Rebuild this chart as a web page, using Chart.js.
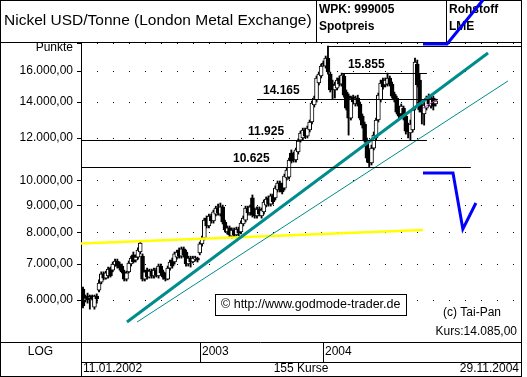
<!DOCTYPE html>
<html>
<head>
<meta charset="utf-8">
<script src="https://cdn.jsdelivr.net/npm/chart.js@4.4.0/dist/chart.umd.min.js"></script>
<style>
  html, body { margin: 0; padding: 0; background: #fff; }
  canvas { display: block; }
</style>
</head>
<body>
<canvas id="chart" width="527" height="377"></canvas>
<script>
// Nickel USD/Tonne, Wochenkerzen 11.01.2002 - 29.11.2004
const opens = [6290, 6000, 6100, 6050, 6100, 5820, 6100, 6260, 6480, 6710,
  6590, 6650, 6880, 6820, 6970, 7090, 7000, 6940, 6770, 6560,
  6770, 7000, 7280, 7120, 7210, 7370, 7240, 6560, 6820, 6620,
  6790, 6650, 6820, 6650, 6940, 6770, 6680, 6560, 6880, 7120,
  7060, 7210, 7430, 7240, 7470, 7370, 7000, 7180, 7060, 7150,
  7180, 7340, 7630, 7820, 8520, 8240, 8600, 8420, 8670, 8900,
  8670, 8940, 8380, 8030, 8170, 7890, 8100, 7930, 8130, 8030,
  8310, 8450, 8900, 8710, 9290, 8820, 8600, 8860, 8600, 8750,
  9010, 9290, 9050, 9370, 9290, 9610, 9900, 9820, 9690, 10120,
  10160, 11260, 11160, 10930, 11310, 11900, 12010, 12430, 12110, 12430,
  12860, 13830, 14130, 15200, 15660, 16560, 16340, 16910, 15790, 15130,
  14750, 14870, 15530, 15130, 15660, 14620, 14370, 13080, 14310, 13890,
  14250, 13890, 13190, 12750, 11900, 11160, 10790, 11500, 12010, 12970,
  14130, 15390, 15070, 15130, 15530, 15130, 14500, 14250, 13650, 13310,
  13650, 13190, 12640, 12270, 12430, 13650, 16480, 15390, 13770, 13310,
  13650, 14370, 13770, 14250, 13890]
const highs = [6340, 6130, 6180, 6130, 6130, 6130, 6160, 6540, 6770, 6770,
  6790, 6910, 6910, 7060, 7150, 7150, 7060, 7000, 6820, 6790,
  7090, 7240, 7370, 7280, 7500, 7730, 7310, 6820, 6880, 6850,
  6850, 6880, 6880, 7000, 7000, 6820, 6740, 6940, 7120, 7180,
  7370, 7430, 7500, 7530, 7530, 7430, 7240, 7240, 7240, 7240,
  7210, 7690, 7890, 8520, 8600, 8670, 8670, 8820, 8970, 9050,
  9090, 9010, 8450, 8240, 8240, 8170, 8170, 8200, 8200, 8420,
  8600, 8970, 8970, 9010, 9410, 8900, 8940, 8940, 8900, 9210,
  9330, 9370, 9450, 9450, 9780, 9990, 9990, 9900, 10290, 10560,
  11020, 11410, 11310, 11500, 11960, 12370, 12530, 12530, 12640, 12970,
  14070, 14370, 15660, 15930, 16480, 16700, 17060, 17800, 15930, 15390,
  15260, 15530, 15660, 15855, 15790, 14750, 14500, 14370, 14430, 14370,
  14430, 14010, 13310, 12860, 12010, 11410, 11650, 12320, 13080, 14560,
  15390, 15530, 15530, 15855, 15660, 15260, 14620, 14370, 13770, 13890,
  13770, 13310, 12800, 12970, 13650, 16910, 16770, 15790, 13890, 13950,
  14370, 14500, 14370, 14370, 14190]
const lows = [5800, 5950, 5920, 5770, 6000, 5770, 5920, 6210, 6430, 6540,
  6560, 6590, 6620, 6770, 6940, 6880, 6820, 6740, 6510, 6510,
  6740, 6940, 7030, 7060, 7150, 7310, 6510, 6510, 6560, 6590,
  6590, 6590, 6620, 6590, 6680, 6560, 6510, 6540, 6820, 6880,
  7000, 7150, 7180, 7180, 7210, 6940, 6940, 6910, 7030, 7090,
  7060, 7280, 7560, 7760, 8170, 8170, 8340, 8340, 8600, 8630,
  8600, 8310, 8030, 7960, 7860, 7820, 7860, 7860, 7890, 7960,
  8240, 8380, 8630, 8630, 8560, 8520, 8520, 8600, 8520, 8670,
  8940, 8970, 8970, 9050, 9210, 9530, 9530, 9450, 9610, 10030,
  10070, 10790, 10830, 10830, 11210, 11800, 11900, 12010, 12010, 12320,
  12750, 13710, 14010, 15070, 15530, 16340, 16200, 15790, 14620, 14165,
  14250, 14750, 15000, 15000, 14310, 13540, 12160, 12970, 13890, 13770,
  13770, 12970, 12530, 11800, 10830, 10625, 10700, 11410, 11900, 12860,
  14010, 14810, 14940, 15000, 15000, 14250, 14010, 13310, 13080, 13140,
  12970, 12210, 12010, 11900, 12320, 13540, 14940, 13420, 12750, 12690,
  13540, 13770, 13650, 13540, 13770]
const closes = [5850, 6050, 6000, 6080, 6030, 6100, 6030, 6450, 6710, 6590,
  6740, 6850, 6650, 7000, 7090, 6940, 6880, 6770, 6560, 6740,
  7030, 7180, 7060, 7210, 7430, 7660, 6560, 6770, 6620, 6790,
  6650, 6820, 6680, 6940, 6740, 6620, 6560, 6880, 7060, 6940,
  7310, 7370, 7240, 7470, 7280, 7000, 7180, 7060, 7180, 7180,
  7120, 7630, 7820, 8450, 8240, 8600, 8420, 8750, 8900, 8710,
  8940, 8380, 8100, 8170, 7930, 8100, 7930, 8130, 7990, 8340,
  8520, 8900, 8710, 8940, 8630, 8600, 8860, 8670, 8820, 9130,
  9250, 9050, 9370, 9130, 9690, 9900, 9610, 9530, 10200, 10470,
  10930, 10880, 10930, 11410, 11850, 12270, 12430, 12110, 12530, 12860,
  13950, 14250, 15530, 15790, 16340, 16480, 16910, 15930, 14750, 14870,
  15070, 15390, 15130, 15730, 14430, 13650, 13080, 14250, 14010, 14250,
  13890, 13080, 12690, 11900, 11020, 10790, 11500, 12160, 12970, 14430,
  15200, 14940, 15390, 15530, 15130, 14370, 14130, 13420, 13190, 13770,
  13080, 12370, 12320, 12750, 13540, 16630, 15070, 13540, 13420, 13830,
  14250, 13890, 14250, 13770, 14085]

const firstDate = '11.01.2002'
const lastDate = '29.11.2004'
const yearLabels = ['2003', '2004']
const yearStart = [51, 105]

const tickValues = [6000, 7000, 8000, 9000, 10000, 12000, 14000, 16000, 18000]
const tickLabels = ['6.000,00', '7.000,00', '8.000,00', '9.000,00', '10.000,00',
  '12.000,00', '14.000,00', '16.000,00', '']

// Marken (Hoch/Tief)
const levelValues = [17800, 15855, 14165, 11925, 10625]
const levelTexts = ['', '15.855', '14.165', '11.925', '10.625']
const levelFrom = [107, 112.8, 76, -0.87, -0.87]
const levelTo = [191.3, 150.2, 155, 150.2, 169.4]
const levelTextAt = [0, 115.7, 78.6, 72.1, 65.5]

// Trendlinien / Zeichnungen
const trendThick = [{x: 19.2, y: 5460}, {x: 176.9, y: 17280}]
const trendThin = [{x: 23.6, y: 5460}, {x: 185.6, y: 15330}]
const yellowLine = [{x: -0.87, y: 7640}, {x: 148.5, y: 8100}]
const blueUp = [{x: 148.5, y: 17960}, {x: 159, y: 17960}, {x: 174.7, y: 21690}]
const blueDown = [{x: 148.5, y: 10340}, {x: 161.6, y: 10340}, {x: 165.9, y: 8130}, {x: 171.6, y: 9090}]
const pinkLine = [{x: 148.5, y: 13650}, {x: 154.2, y: 14130}]

const FONT = '"Liberation Sans", Arial, sans-serif'
const f = (size, bold) => (bold ? 'bold ' : '') + size + 'px ' + FONT

function hline(ctx, x1, x2, y) {
  ctx.beginPath(); ctx.moveTo(x1, y + 0.5); ctx.lineTo(x2, y + 0.5); ctx.stroke()
}
function vline(ctx, x, y1, y2) {
  ctx.beginPath(); ctx.moveTo(x + 0.5, y1); ctx.lineTo(x + 0.5, y2); ctx.stroke()
}
function text(ctx, s, x, y, font, align) {
  ctx.font = font
  ctx.textAlign = align || 'left'
  ctx.textBaseline = 'middle'
  ctx.fillText(s, x, y)
}

const frame = {
  id: 'frame',
  beforeDraw(chart) {
    const ctx = chart.ctx
    const xs = chart.scales.x
    const a = chart.chartArea
    const R = Math.round(a.right)
    ctx.save()
    ctx.fillStyle = '#fff'
    ctx.fillRect(0, 0, chart.width, chart.height)
    ctx.strokeStyle = '#000'
    ctx.fillStyle = '#000'
    ctx.lineWidth = 1
    // Rahmen
    ctx.strokeRect(0.5, 0.5, R, 376)
    hline(ctx, 0, R, 42)
    vline(ctx, 316, 0, 42)
    vline(ctx, 446, 0, 42)
    hline(ctx, 0, R, 342)
    hline(ctx, 81, R, 362)
    vline(ctx, 81, 342, 377)
    // Kopf
    text(ctx, 'Nickel USD/Tonne (London Metal Exchange)', 4, 21, f(15.5))
    text(ctx, 'WPK: 999005', 319, 10, f(12, true))
    text(ctx, 'Spotpreis', 319, 27, f(12, true))
    text(ctx, 'Rohstoff', 449, 10, f(12, true))
    text(ctx, 'LME', 449, 27, f(12, true))
    text(ctx, 'Punkte', 73, 48, f(12), 'right')
    // Fuss
    text(ctx, 'LOG', 40.5, 352, f(12), 'center')
    yearStart.forEach((idx, k) => {
      const px = Math.round(xs.getPixelForValue(idx))
      vline(ctx, px, 342, 362)
      text(ctx, yearLabels[k], px + 2, 352, f(12))
    })
    text(ctx, firstDate, 83, 369, f(12))
    text(ctx, closes.length + ' Kurse', (81 + R) / 2, 369, f(12), 'center')
    text(ctx, lastDate, R - 2, 369, f(12), 'right')
    ctx.restore()
  },
  beforeDatasetsDraw(chart) {
    // gepunktetes Raster auf den Tick-Werten
    const ctx = chart.ctx
    const ys = chart.scales.y
    const a = chart.chartArea
    ctx.save()
    ctx.fillStyle = '#000'
    tickValues.forEach(v => {
      const py = Math.floor(ys.getPixelForValue(v))
      for (let x = Math.round(a.left) + 16; x < a.right - 2; x += 16) ctx.fillRect(x, py, 1, 1)
    })
    ctx.restore()
  },
  afterDatasetsDraw(chart) {
    const ctx = chart.ctx
    const xs = chart.scales.x, ys = chart.scales.y
    ctx.save()
    ctx.strokeStyle = '#000'
    ctx.fillStyle = '#000'
    ctx.lineWidth = 1
    levelValues.forEach((v, k) => {
      const py = Math.round(ys.getPixelForValue(v))
      hline(ctx, xs.getPixelForValue(levelFrom[k]), xs.getPixelForValue(levelTo[k]), py)
      if (levelTexts[k]) text(ctx, levelTexts[k], xs.getPixelForValue(levelTextAt[k]), py - 8, f(12, true))
    })
    // Copyright-Box
    ctx.fillStyle = '#fff'
    ctx.fillRect(215, 294, 191, 21)
    ctx.strokeRect(215.5, 294.5, 191, 21)
    ctx.fillStyle = '#000'
    text(ctx, '\u00a9 http://www.godmode-trader.de', 221, 305, f(12.5))
    text(ctx, '(c) Tai-Pan', 443, 313, f(12))
    text(ctx, 'Kurs:' + closes[closes.length - 1].toLocaleString('de-DE', {minimumFractionDigits: 2}), 517, 332, f(12), 'right')
    ctx.restore()
  }
}

const bodyColors = closes.map((c, i) => c >= opens[i] ? '#ffffff' : '#000000')
const lineDs = (data, color, width, extra) => Object.assign({
  type: 'line', data, borderColor: color, borderWidth: width,
  pointRadius: 0, fill: false, tension: 0, order: 1
}, extra || {})

new Chart(document.getElementById('chart'), {
  type: 'bar',
  data: {
    datasets: [
      lineDs(blueUp, '#0000ff', 3, {clip: false, order: 0}),
      lineDs(blueDown, '#0000ff', 3, {order: 0}),
      lineDs(trendThick, '#008c8c', 3),
      lineDs(trendThin, '#008c8c', 1),
      lineDs(yellowLine, '#ffff00', 2.5),
      lineDs(pinkLine, '#c040c0', 1),
      {
        label: 'Koerper',
        data: opens.map((o, i) => ({x: i, y: [Math.min(o, closes[i]), Math.max(o, closes[i])]})),
        backgroundColor: bodyColors,
        borderColor: '#000',
        borderWidth: 1,
        borderSkipped: false,
        barThickness: 4,
        grouped: false,
        order: 5
      },
      {
        label: 'Docht',
        data: lows.map((l, i) => ({x: i, y: [l, highs[i]]})),
        backgroundColor: '#000',
        barThickness: 1.2,
        grouped: false,
        order: 6
      }
    ]
  },
  options: {
    responsive: false,
    animation: false,
    layout: {padding: {left: 0, top: 42, right: 6, bottom: 35}},
    plugins: {legend: {display: false}, tooltip: {enabled: false}},
    scales: {
      x: {type: 'linear', min: -0.87, max: 191.3, offset: false, display: false},
      y: {
        type: 'logarithmic',
        min: 5013,
        max: 18116,
        afterFit: s => { s.width = 81 },
        afterBuildTicks: s => { s.ticks = tickValues.map(v => ({value: v})) },
        ticks: {
          callback: (v, i) => tickLabels[i],
          color: '#000',
          font: {family: FONT, size: 12},
          padding: 4,
          autoSkip: false
        },
        grid: {drawOnChartArea: false, color: '#000', lineWidth: 1, tickLength: 4, tickColor: '#000'},
        border: {display: true, color: '#000', width: 1}
      }
    }
  },
  plugins: [frame]
})
</script>
</body>
</html>
